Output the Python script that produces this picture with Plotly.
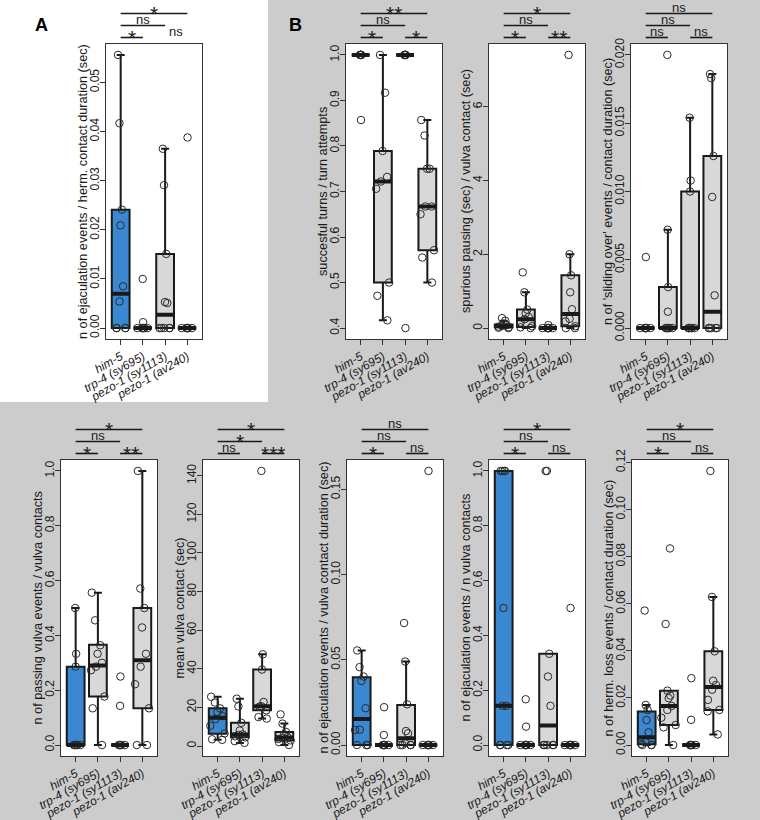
import plotly.graph_objects as go

# ---------------- DATA ----------------
categories = ["him-5", "trp-4 (sy695)", "pezo-1 (sy1113)", "pezo-1 (av240)"]

# Panel A: n of ejaculation events / herm. contact duration (sec)
a_title = "n of ejaculation events / herm. contact duration (sec)"
a_him5 = [0.0556, 0.0417, 0.0241, 0.0209, 0.0085, 0.0054, 0, 0, 0, 0]
a_trp4 = [0.0100, 0.0012, 0, 0, 0, 0, 0, 0, 0]
a_sy1113 = [0.0365, 0.0291, 0.0151, 0.0053, 0.0051, 0, 0, 0, 0, 0]
a_av240 = [0.0388, 0, 0, 0, 0, 0, 0, 0]
a_q1 = [0, 0, 0, 0]
a_med = [0.0070, 0, 0.0027, 0]
a_q3 = [0.0241, 0, 0.0151, 0]
a_lo = [0, 0, 0, 0]
a_hi = [0.0556, 0, 0.0365, 0]
a_ticks = [0.00, 0.01, 0.02, 0.03, 0.04, 0.05]
a_sig = [("*", 1, 4, 3, True), ("ns", 1, 3, 2, True), ("*", 1, 2, 1, True), ("ns", 3, 4, 1, False)]

# Panel B1: succesful turns / turn attempts
b1_title = "succesful turns / turn attempts"
b1_him5 = [1, 1, 1, 1, 1, 1, 0.857]
b1_trp4 = [1.0, 0.917, 0.789, 0.732, 0.722, 0.706, 0.5, 0.471, 0.417]
b1_sy1113 = [1, 1, 1, 1, 1, 1, 0.4]
b1_av240 = [0.857, 0.823, 0.75, 0.75, 0.667, 0.667, 0.65, 0.571, 0.555, 0.5]
b1_q1 = [1, 0.5, 1, 0.571]
b1_med = [1, 0.722, 1, 0.667]
b1_q3 = [1, 0.789, 1, 0.75]
b1_lo = [1, 0.417, 1, 0.5]
b1_hi = [1, 1.0, 1, 0.857]
b1_ticks = [0.4, 0.5, 0.6, 0.7, 0.8, 0.9, 1.0]
b1_sig = [("**", 1, 4, 3, True), ("ns", 1, 3, 2, True), ("*", 1, 2, 1, True), ("*", 3, 4, 1, True)]

# Panel B2: spurious pausing (sec) / vulva contact (sec)
b2_title = "spurious pausing (sec) / vulva contact (sec)"
b2_him5 = [0.27, 0.2, 0.12, 0.08, 0.06, 0.04, 0.02, 0.01, 0]
b2_trp4 = [1.51, 0.97, 0.5, 0.4, 0.3, 0.24, 0.15, 0.05, 0.02, 0]
b2_sy1113 = [0.08, 0, 0, 0, 0, 0, 0, 0]
b2_av240 = [7.4, 2.0, 1.43, 0.97, 0.51, 0.25, 0.18, 0.05, 0, 0]
b2_q1 = [0.02, 0.03, 0, 0.05]
b2_med = [0.05, 0.24, 0, 0.38]
b2_q3 = [0.1, 0.5, 0, 1.43]
b2_lo = [0, 0, 0, 0]
b2_hi = [0.2, 0.97, 0, 2.0]
b2_ticks = [0, 2, 4, 6]
b2_sig = [("*", 1, 4, 3, True), ("ns", 1, 3, 2, True), ("*", 1, 2, 1, True), ("**", 3, 4, 1, True)]

# Panel B3: n of 'sliding over' events / contact duration (sec)
b3_title = "n of 'sliding over' events / contact duration (sec)"
b3_him5 = [0.0052, 0, 0, 0, 0, 0, 0, 0]
b3_trp4 = [0.0200, 0.0072, 0.0030, 0.0012, 0, 0, 0, 0, 0, 0]
b3_sy1113 = [0.0154, 0.0108, 0.0100, 0, 0, 0, 0, 0, 0]
b3_av240 = [0.0186, 0.0183, 0.0126, 0.0096, 0.0024, 0, 0, 0, 0, 0]
b3_q1 = [0, 0, 0, 0]
b3_med = [0, 0, 0, 0.0012]
b3_q3 = [0, 0.0030, 0.0100, 0.0126]
b3_lo = [0, 0, 0, 0]
b3_hi = [0, 0.0072, 0.0154, 0.0186]
b3_ticks = [0.000, 0.005, 0.010, 0.015, 0.020]
b3_sig = [("ns", 1, 4, 3, True), ("ns", 1, 3, 2, True), ("ns", 1, 2, 1, True), ("ns", 3, 4, 1, True)]

# Panel C1: n of passing vulva events / vulva contacts
c1_title = "n of passing vulva events / vulva contacts"
c1_him5 = [0.5, 0.333, 0.286, 0, 0, 0, 0, 0, 0]
c1_trp4 = [0.556, 0.455, 0.364, 0.333, 0.3, 0.286, 0.273, 0.177, 0.134, 0]
c1_sy1113 = [0.25, 0.143, 0, 0, 0, 0, 0, 0]
c1_av240 = [1.0, 0.571, 0.5, 0.429, 0.333, 0.286, 0.222, 0.134, 0, 0]
c1_q1 = [0, 0.177, 0, 0.134]
c1_med = [0, 0.29, 0, 0.309]
c1_q3 = [0.286, 0.366, 0, 0.5]
c1_lo = [0, 0, 0, 0]
c1_hi = [0.5, 0.556, 0, 1.0]
c1_ticks = [0.0, 0.2, 0.4, 0.6, 0.8, 1.0]
c1_sig = [("*", 1, 4, 3, True), ("ns", 1, 3, 2, True), ("*", 1, 2, 1, True), ("**", 3, 4, 1, True)]

# Panel C2: mean vulva contact (sec)
c2_title = "mean vulva contact (sec)"
c2_him5 = [25.5, 22.5, 19.5, 17.5, 15.5, 14.0, 10.5, 6.5, 3.5, 3.2]
c2_trp4 = [24.5, 20.5, 12.0, 8.0, 6.0, 5.8, 5.0, 4.5, 2.5, 1.6]
c2_sy1113 = [142.5, 47.5, 39.6, 22.8, 20.6, 20.4, 18.5, 15.0, 14.2]
c2_av240 = [16.4, 11.6, 7.3, 6.0, 4.6, 4.2, 3.6, 2.9, 2.0, 0.5]
c2_q1 = [6.4, 4.5, 18.5, 2.9]
c2_med = [14.7, 5.9, 20.6, 4.4]
c2_q3 = [19.5, 12.1, 39.6, 7.3]
c2_lo = [3.2, 1.6, 14.2, 0.5]
c2_hi = [25.5, 24.5, 47.5, 11.6]
c2_ticks = [0, 20, 40, 60, 80, 100, 120, 140]
c2_sig = [("*", 1, 4, 3, True), ("*", 1, 3, 2, True), ("ns", 1, 2, 1, True), ("***", 3, 4, 1, True)]

# Panel C3: n of ejaculation events / vulva contact duration (sec)
c3_title = "n of ejaculation events / vulva contact duration (sec)"
c3_him5 = [0.0555, 0.0457, 0.0402, 0.0376, 0.0216, 0.0090, 0.0088, 0, 0, 0]
c3_trp4 = [0.0222, 0.0059, 0, 0, 0, 0, 0, 0]
c3_sy1113 = [0.0716, 0.0490, 0.0239, 0.0082, 0.0069, 0.0010, 0, 0, 0, 0]
c3_av240 = [0.1608, 0, 0, 0, 0, 0, 0, 0]
c3_q1 = [0, 0, 0, 0]
c3_med = [0.0153, 0, 0.0040, 0]
c3_q3 = [0.0398, 0, 0.0235, 0]
c3_lo = [0, 0, 0, 0]
c3_hi = [0.0555, 0, 0.0490, 0]
c3_ticks = [0.00, 0.05, 0.10, 0.15]
c3_sig = [("ns", 1, 4, 3, True), ("ns", 1, 3, 2, True), ("*", 1, 2, 1, True), ("ns", 3, 4, 1, True)]

# Panel C4: n of ejaculation events / n vulva contacts
c4_title = "n of ejaculation events / n vulva contacts"
c4_him5 = [1, 1, 1, 1, 0.5, 0.143, 0.143, 0, 0, 0, 0]
c4_trp4 = [0.167, 0.067, 0, 0, 0, 0, 0, 0, 0]
c4_sy1113 = [1, 1, 0.333, 0.25, 0.143, 0, 0, 0, 0, 0]
c4_av240 = [0.5, 0, 0, 0, 0, 0, 0, 0]
c4_q1 = [0, 0, 0, 0]
c4_med = [0.143, 0, 0.071, 0]
c4_q3 = [1, 0, 0.333, 0]
c4_lo = [0, 0, 0, 0]
c4_hi = [1, 0, 0.333, 0]
c4_ticks = [0.0, 0.2, 0.4, 0.6, 0.8, 1.0]
c4_sig = [("*", 1, 4, 3, True), ("ns", 1, 3, 2, True), ("*", 1, 2, 1, True), ("ns", 3, 4, 1, True)]

# Panel C5: n of herm. loss events / contact duration (sec)
c5_title = "n of herm. loss events / contact duration (sec)"
c5_him5 = [0.0571, 0.0170, 0.0149, 0.0106, 0.0054, 0.0012, 0.0005, 0, 0, 0]
c5_trp4 = [0.0835, 0.0514, 0.0231, 0.0210, 0.0199, 0.0166, 0.0149, 0.0116, 0.0085, 0.0075, 0]
c5_sy1113 = [0.0284, 0.0107, 0, 0, 0, 0, 0, 0]
c5_av240 = [0.1164, 0.0629, 0.0398, 0.0273, 0.0255, 0.0235, 0.0192, 0.0149, 0.0143, 0.0045]
c5_q1 = [0.0003, 0.0085, 0, 0.0149]
c5_med = [0.0033, 0.0166, 0, 0.0246]
c5_q3 = [0.0142, 0.0231, 0, 0.0398]
c5_lo = [0, 0, 0, 0.0045]
c5_hi = [0.0170, 0.0231, 0, 0.0629]
c5_ticks = [0.00, 0.02, 0.04, 0.06, 0.08, 0.10, 0.12]
c5_sig = [("*", 1, 4, 3, True), ("ns", 1, 3, 2, True), ("*", 1, 2, 1, True), ("ns", 3, 4, 1, True)]

panels = [
    dict(pts=[a_him5, a_trp4, a_sy1113, a_av240], q1=a_q1, med=a_med, q3=a_q3, lo=a_lo, hi=a_hi,
         title=a_title, ticks=a_ticks, fmt=".2f", sig=a_sig),
    dict(pts=[b1_him5, b1_trp4, b1_sy1113, b1_av240], q1=b1_q1, med=b1_med, q3=b1_q3, lo=b1_lo, hi=b1_hi,
         title=b1_title, ticks=b1_ticks, fmt=".1f", sig=b1_sig),
    dict(pts=[b2_him5, b2_trp4, b2_sy1113, b2_av240], q1=b2_q1, med=b2_med, q3=b2_q3, lo=b2_lo, hi=b2_hi,
         title=b2_title, ticks=b2_ticks, fmt=".0f", sig=b2_sig),
    dict(pts=[b3_him5, b3_trp4, b3_sy1113, b3_av240], q1=b3_q1, med=b3_med, q3=b3_q3, lo=b3_lo, hi=b3_hi,
         title=b3_title, ticks=b3_ticks, fmt=".3f", sig=b3_sig),
    dict(pts=[c1_him5, c1_trp4, c1_sy1113, c1_av240], q1=c1_q1, med=c1_med, q3=c1_q3, lo=c1_lo, hi=c1_hi,
         title=c1_title, ticks=c1_ticks, fmt=".1f", sig=c1_sig),
    dict(pts=[c2_him5, c2_trp4, c2_sy1113, c2_av240], q1=c2_q1, med=c2_med, q3=c2_q3, lo=c2_lo, hi=c2_hi,
         title=c2_title, ticks=c2_ticks, fmt=".0f", sig=c2_sig),
    dict(pts=[c3_him5, c3_trp4, c3_sy1113, c3_av240], q1=c3_q1, med=c3_med, q3=c3_q3, lo=c3_lo, hi=c3_hi,
         title=c3_title, ticks=c3_ticks, fmt=".2f", sig=c3_sig),
    dict(pts=[c4_him5, c4_trp4, c4_sy1113, c4_av240], q1=c4_q1, med=c4_med, q3=c4_q3, lo=c4_lo, hi=c4_hi,
         title=c4_title, ticks=c4_ticks, fmt=".1f", sig=c4_sig),
    dict(pts=[c5_him5, c5_trp4, c5_sy1113, c5_av240], q1=c5_q1, med=c5_med, q3=c5_q3, lo=c5_lo, hi=c5_hi,
         title=c5_title, ticks=c5_ticks, fmt=".2f", sig=c5_sig),
]

# ---------------- LAYOUT / STYLE ----------------
W, H = 760, 820
FONT = "Liberation Sans, Arial, Helvetica, sans-serif"
INK = "#1a1a1a"
BLUE = "#3a88d2"
GREY = "#d8d8d8"
# plot-area pixel boxes (left, top, right, bottom)
boxes_px = [(106, 44, 202, 339), (346, 44, 442, 339), (489, 44, 585, 339), (631, 44, 727, 339),
            (61, 460, 157, 756), (203, 460, 299, 756), (347, 460, 443, 756), (489, 460, 585, 756),
            (632, 460, 728, 756)]
level_off = {1: 6.5, 2: 18.5, 3: 30.5}

fig = go.Figure()
shapes = [dict(type="rect", xref="paper", yref="paper", x0=0, x1=268 / W, y0=1 - 402 / H, y1=1,
               fillcolor="white", line=dict(width=0), layer="below")]
annotations = [
    dict(text="<b>A</b>", x=41.7 / W, y=1 - 25 / H, xref="paper", yref="paper", showarrow=False,
         xanchor="center", yanchor="middle", font=dict(family=FONT, size=18, color="black")),
    dict(text="<b>B</b>", x=295 / W, y=1 - 25 / H, xref="paper", yref="paper", showarrow=False,
         xanchor="center", yanchor="middle", font=dict(family=FONT, size=18, color="black")),
]

for k, p in enumerate(panels):
    n = k + 1
    xr = "x" if n == 1 else f"x{n}"
    yr = "y" if n == 1 else f"y{n}"
    L, T, R, B = boxes_px[k]

    # boxes: him-5 blue, the rest grey
    for idxs, fill in (([0], BLUE), ([1, 2, 3], GREY)):
        fig.add_trace(go.Box(
            x=[categories[i] for i in idxs],
            q1=[p["q1"][i] for i in idxs], median=[p["med"][i] for i in idxs],
            q3=[p["q3"][i] for i in idxs], lowerfence=[p["lo"][i] for i in idxs],
            upperfence=[p["hi"][i] for i in idxs],
            width=0.8, whiskerwidth=0.45, fillcolor=fill, line=dict(color=INK, width=2),
            xaxis=xr, yaxis=yr, showlegend=False, hoverinfo="skip"))

    # jittered raw points (over the box fill)
    for ci, vals in enumerate(p["pts"]):
        fig.add_trace(go.Box(
            x=[categories[ci]] * len(vals), y=vals, boxpoints="all", jitter=1.0, pointpos=0,
            width=0.8, whiskerwidth=0, fillcolor="rgba(0,0,0,0)",
            line=dict(width=0, color="rgba(0,0,0,0)"),
            marker=dict(symbol="circle-open", size=7.5, color="#2a2a2a",
                        line=dict(width=1, color="#2a2a2a")),
            xaxis=xr, yaxis=yr, showlegend=False, hoverinfo="y"))

    # thick median bars
    fig.add_trace(go.Box(
        x=categories, q1=p["med"], median=p["med"], q3=p["med"], lowerfence=p["med"],
        upperfence=p["med"], width=0.8, whiskerwidth=0, fillcolor="rgba(0,0,0,0)",
        line=dict(color=INK, width=4), xaxis=xr, yaxis=yr, showlegend=False, hoverinfo="skip"))

    allv = [v for vals in p["pts"] for v in vals]
    mn, mx = min(allv), max(allv)
    pad = 0.04 * (mx - mn)

    fig.layout[f"xaxis{'' if n == 1 else n}"] = dict(
        domain=[L / W, R / W], anchor=yr, type="category", categoryorder="array",
        categoryarray=categories, range=[-0.66, 3.66], showline=True, mirror=True,
        linecolor="#333", linewidth=1, ticks="outside", ticklen=5, tickcolor="#333",
        tickangle=-30, showgrid=False, zeroline=False, automargin=False,
        tickfont=dict(family=FONT, size=12, color=INK, style="italic"))
    fig.layout[f"yaxis{'' if n == 1 else n}"] = dict(
        domain=[1 - B / H, 1 - T / H], anchor=xr, range=[mn - pad, mx + pad],
        tickmode="array", tickvals=p["ticks"], tickformat=p["fmt"], showline=True, mirror=True,
        linecolor="#333", linewidth=1, ticks="outside", ticklen=5, tickcolor="#333",
        tickangle=-90, showgrid=False, zeroline=False, automargin=False, ticklabelstandoff=-4,
        tickfont=dict(family=FONT, size=12, color=INK))

    # y-axis title
    annotations.append(dict(
        text=p["title"], x=(L - 23.5) / W, y=1 - (T + B) / 2 / H, xref="paper", yref="paper",
        textangle=-90, showarrow=False, xanchor="center", yanchor="middle",
        font=dict(family=FONT, size=12.7, color=INK)))

    # significance brackets
    for label, i, j, lev, line in p["sig"]:
        ypx = T - level_off[lev]
        yp = 1 - ypx / H
        if line:
            shapes.append(dict(type="line", xref=xr, yref="paper", x0=i - 1, x1=j - 1,
                               y0=yp, y1=yp, line=dict(color=INK, width=1.6)))
        star = label.startswith("*")
        annotations.append(dict(
            text=label, x=(i - 1 + j - 1) / 2, y=yp, xref=xr, yref="paper", showarrow=False,
            xanchor="center", yanchor="middle", yshift=0 if star else 6,
            font=dict(family=FONT, size=21 if star else 13, color=INK)))

fig.update_layout(width=W, height=H, margin=dict(l=0, r=0, t=0, b=0, autoexpand=False),
                  paper_bgcolor="#cccccc", plot_bgcolor="white", showlegend=False,
                  boxmode="overlay", shapes=shapes, annotations=annotations,
                  font=dict(family=FONT, color=INK))

fig.write_html("out.html", config={"responsive": False, "displayModeBar": False},
               post_script="document.body.style.margin='0';document.body.style.overflow='hidden';")
